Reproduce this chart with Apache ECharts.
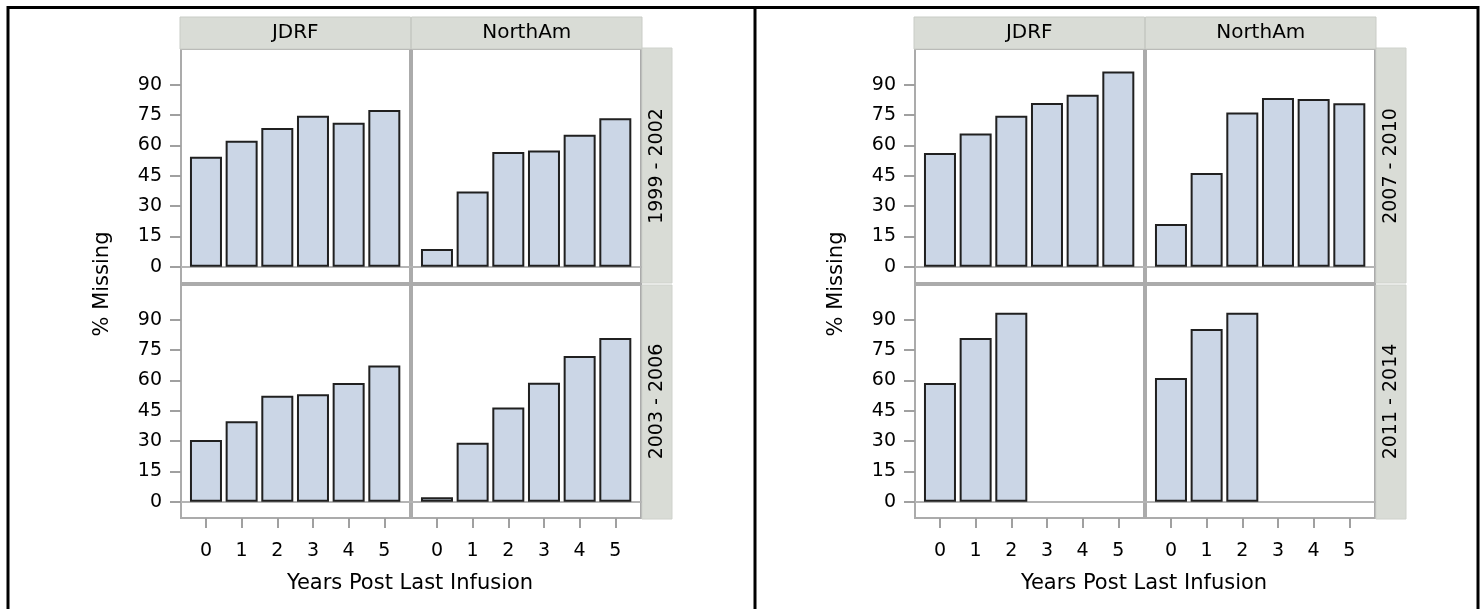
<!DOCTYPE html>
<html>
<head>
<meta charset="utf-8">
<script src="https://cdn.jsdelivr.net/npm/echarts@6/dist/echarts.min.js"></script>
<style>
html,body{margin:0;padding:0;background:#fff;}
#chart{width:1484px;height:609px;}
</style>
</head>
<body>
<div id="chart"></div>
<script>
// ---- data ----
const years = [0, 1, 2, 3, 4, 5];
const yTicks = [0, 15, 30, 45, 60, 75, 90];
const columns = ['JDRF', 'NorthAm'];
const rowsA = ['1999 - 2002', '2003 - 2006'];
const rowsB = ['2007 - 2010', '2011 - 2014'];
const yTitle = '% Missing';
const xTitle = 'Years Post Last Infusion';

const a_1999_JDRF    = [54.5, 62.4, 68.7, 74.8, 71.3, 77.6];
const a_1999_NorthAm = [8.8, 37.3, 56.8, 57.6, 65.4, 73.5];
const a_2003_JDRF    = [30.5, 39.8, 52.5, 53.2, 58.8, 67.4];
const a_2003_NorthAm = [2.2, 29.2, 46.6, 58.9, 72.2, 81.1];
const b_2007_JDRF    = [56.3, 65.9, 74.8, 81.1, 85.2, 96.7];
const b_2007_NorthAm = [21.1, 46.4, 76.3, 83.5, 83.0, 80.9];
const b_2011_JDRF    = [58.8, 81.1, 93.5, null, null, null];
const b_2011_NorthAm = [61.3, 85.5, 93.5, null, null, null];

// ---- layout ----
const FONT = 'DejaVu Sans';
const panels = [
  { ox: 0,   rows: rowsA, data: [[a_1999_JDRF, a_1999_NorthAm], [a_2003_JDRF, a_2003_NorthAm]] },
  { ox: 734, rows: rowsB, data: [[b_2007_JDRF, b_2007_NorthAm], [b_2011_JDRF, b_2011_NorthAm]] }
];
const colLeft = [181, 412];
const colW = 229;
const rowTop = [49, 285];
const rowH = [234, 233];
const yMin = -8.07, yMaxRow = [107.8, 107.3];
const xMin = -0.7, xMax = 5.72;

const grid = [], xAxis = [], yAxis = [], series = [], graphic = [];

panels.forEach(p => {
  for (let r = 0; r < 2; r++) {
    for (let c = 0; c < 2; c++) {
      const gi = grid.length;
      grid.push({
        left: p.ox + colLeft[c], top: rowTop[r], width: colW, height: rowH[r],
        show: true, borderColor: '#ABABAB', borderWidth: 2, backgroundColor: '#fff'
      });
      yAxis.push({
        type: 'value', gridIndex: gi, min: yMin, max: yMaxRow[r],
        splitLine: { show: false },
        axisLine: { show: false, onZero: false },
        axisTick: { show: c === 0, customValues: yTicks, length: 11, lineStyle: { color: '#A0A0A0', width: 2 } },
        axisLabel: { show: c === 0, customValues: yTicks, fontSize: 19, fontFamily: FONT, color: '#000', margin: 19 }
      });
      const xi = xAxis.length;
      xAxis.push({
        type: 'value', gridIndex: gi, min: xMin, max: xMax, position: 'bottom',
        splitLine: { show: false },
        axisLine: { show: false, onZero: false },
        axisTick: { show: r === 1, customValues: years, length: 10, lineStyle: { color: '#A0A0A0', width: 2 } },
        axisLabel: { show: r === 1, customValues: years, fontSize: 19, fontFamily: FONT, color: '#000', margin: 24 }
      });
      xAxis.push({
        type: 'value', gridIndex: gi, min: xMin, max: xMax, position: 'top',
        splitLine: { show: false },
        axisLine: { show: true, onZero: true, lineStyle: { color: '#B4B4B4', width: 2 } },
        axisTick: { show: false }, axisLabel: { show: false }
      });
      const vals = p.data[r][c];
      series.push({
        type: 'bar', xAxisIndex: xi, yAxisIndex: gi,
        data: years.map((x, i) => [x, vals[i]]),
        barWidth: 32,
        itemStyle: { color: '#CBD6E6', borderColor: '#202020', borderWidth: 2 },
        silent: true, animation: false
      });
    }
    // row header strip
    graphic.push({
      type: 'rect', shape: { x: p.ox + 642, y: rowTop[r] + (r === 0 ? -1 : 0), width: 30, height: rowH[r] + 1 },
      style: { fill: '#D9DCD6', stroke: '#CFD2CC', lineWidth: 1 }
    });
    graphic.push({
      type: 'text', x: p.ox + 657, y: rowTop[r] + rowH[r] / 2, rotation: Math.PI / 2,
      style: { text: p.rows[r], font: '19px "' + FONT + '"', fill: '#000',
               align: 'center', verticalAlign: 'middle', textAlign: 'center', textVerticalAlign: 'middle' }
    });
  }
  // column headers
  for (let c = 0; c < 2; c++) {
    const x0 = p.ox + (c === 0 ? 180 : 411.5);
    const w = 230.5;
    graphic.push({
      type: 'rect', shape: { x: x0, y: 17, width: w, height: 32 },
      style: { fill: '#D9DCD6', stroke: '#C9CCC6', lineWidth: 1 }
    });
    graphic.push({
      type: 'text', x: x0 + w / 2, y: 33,
      style: { text: columns[c], font: '20px "' + FONT + '"', fill: '#000',
               align: 'center', verticalAlign: 'middle', textAlign: 'center', textVerticalAlign: 'middle' }
    });
  }
  // axis titles
  graphic.push({
    type: 'text', x: p.ox + 103, y: 284, rotation: Math.PI / 2,
    style: { text: yTitle, font: '21px "' + FONT + '"', fill: '#000',
             align: 'center', verticalAlign: 'middle', textAlign: 'center', textVerticalAlign: 'middle' }
  });
  graphic.push({
    type: 'text', x: p.ox + 410, y: 584,
    style: { text: xTitle, font: '21px "' + FONT + '"', fill: '#000',
             align: 'center', verticalAlign: 'middle', textAlign: 'center', textVerticalAlign: 'middle' }
  });
});

// outer black frame
graphic.push({ type: 'line', shape: { x1: 7, y1: 7.5, x2: 1479, y2: 7.5 }, style: { stroke: '#000', lineWidth: 3 } });
[8, 755, 1478].forEach(x => {
  graphic.push({ type: 'line', shape: { x1: x, y1: 6, x2: x, y2: 615 }, style: { stroke: '#000', lineWidth: 3 } });
});

const chart = echarts.init(document.getElementById('chart'));
chart.setOption({
  backgroundColor: '#fff',
  animation: false,
  grid, xAxis, yAxis, series, graphic
});
</script>
</body>
</html>
